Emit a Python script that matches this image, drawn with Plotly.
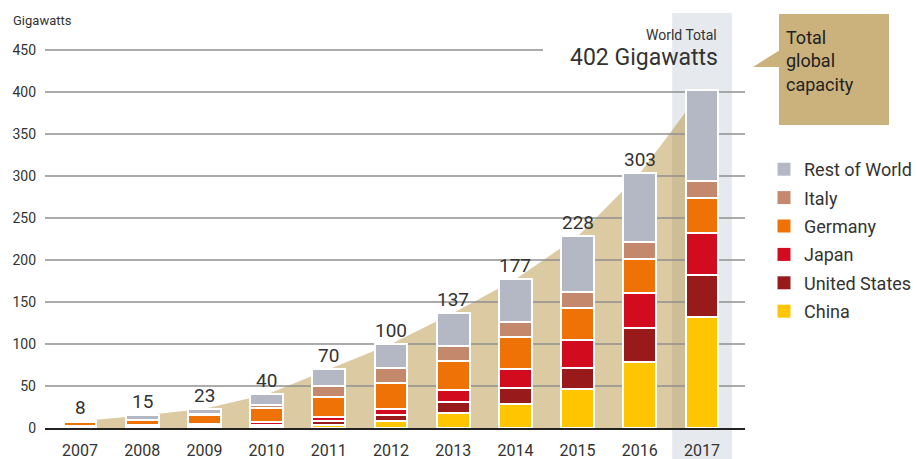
import plotly.graph_objects as go

# ---- data ----
years = [2007, 2008, 2009, 2010, 2011, 2012, 2013, 2014, 2015, 2016, 2017]
china = [0.1, 0.14, 0.3, 0.9, 3.5, 8.5, 18.2, 28.6, 46, 78, 132]
united_states = [0.8, 1.2, 1.6, 2.5, 4.5, 7, 13, 19.4, 25.4, 41, 50]
japan = [1.9, 2.1, 2.6, 3.6, 5, 7.5, 14, 22, 33, 42, 50]
germany = [3.8, 6, 10.6, 17.4, 24.5, 31, 34, 38, 39, 40.5, 42]
italy = [0.1, 0.5, 1.1, 3.5, 12.5, 17, 18, 18.6, 19, 19.4, 19.7]
rest_of_world = [1.3, 5.1, 6.8, 12.1, 20, 29, 39.8, 50.4, 65.6, 82.1, 108.3]
totals = [8, 15, 23, 40, 70, 100, 137, 177, 228, 303, 402]
y_ticks = [0, 50, 100, 150, 200, 250, 300, 350, 400, 450]

series = [
    ("China", china, "#FFC600"),
    ("United States", united_states, "#981A1B"),
    ("Japan", japan, "#D20C1E"),
    ("Germany", germany, "#EE7205"),
    ("Italy", italy, "#C4886C"),
    ("Rest of World", rest_of_world, "#B4B8C5"),
]

# ---- layout geometry ----
W, H = 917, 459
L, R, T, B = 45, 172, 40, 31
plot_w = W - L - R
plot_h = H - T - B
px_per_year = 62.2
x_start = years[0] - (80 - L) / px_per_year
x_end = x_start + plot_w / px_per_year
y_max = plot_h / 0.84


def pxx(xp):
    return (xp - L) / plot_w


def pxy(yp):
    return (H - B - yp) / plot_h


def xdata(xp):
    return x_start + (xp - L) / px_per_year


FONT = "Roboto, 'Open Sans', sans-serif"
TXT = "#333333"

fig = go.Figure()

for name, vals, col in series:
    fig.add_trace(go.Bar(
        x=years, y=vals, name=name, width=0.53,
        marker=dict(color=col, line=dict(color="white", width=2)),
        showlegend=False, hoverinfo="x+y+name",
    ))

# legend entries (square swatches)
for name, vals, col in reversed(series):
    fig.add_trace(go.Scatter(
        x=[None], y=[None], mode="markers", name=name, legendgroup=name,
        marker=dict(symbol="square", size=13, color=col),
    ))

shapes = []
# highlight band for the last year
shapes.append(dict(
    type="rect", xref="x", yref="paper",
    x0=years[-1] - 0.48, x1=years[-1] + 0.48,
    y0=pxy(459), y1=pxy(13),
    fillcolor="#E6E9EE", line=dict(width=0), layer="below",
))
# tan total-capacity area built from totals
path = f"M {years[0]},0 " + " ".join(f"L {x},{t}" for x, t in zip(years, totals)) + f" L {years[-1]},0 Z"
shapes.append(dict(
    type="path", xref="x", yref="y", path=path,
    fillcolor="rgba(168,125,23,0.4)", line=dict(width=0), layer="below",
))
# grid lines
for v in y_ticks[1:]:
    xe = x_end if v != y_ticks[-1] else xdata(543)
    shapes.append(dict(
        type="line", xref="x", yref="y", x0=x_start, x1=xe, y0=v, y1=v,
        line=dict(color="#8f8f8f", width=1.3), layer="below",
    ))
# callout box and pointer
shapes.append(dict(
    type="rect", xref="paper", yref="paper",
    x0=pxx(779), x1=pxx(889), y0=pxy(125), y1=pxy(14),
    fillcolor="#CBB17B", line=dict(width=0), layer="above",
))
shapes.append(dict(
    type="path", xref="paper", yref="paper",
    path=f"M {pxx(780)},{pxy(50)} L {pxx(753)},{pxy(67)} L {pxx(780)},{pxy(67)} Z",
    fillcolor="#CBB17B", line=dict(width=0), layer="above",
))

annotations = []
for x, t in zip(years[:-1], totals[:-1]):
    annotations.append(dict(
        x=x, y=t, xref="x", yref="y", text=str(t), showarrow=False,
        yanchor="bottom", font=dict(size=19, color=TXT, family=FONT),
    ))
annotations += [
    dict(x=pxx(11), y=pxy(21), xref="paper", yref="paper", text="Gigawatts",
         showarrow=False, xanchor="left", yanchor="middle",
         font=dict(size=13, color=TXT, family=FONT)),
    dict(x=pxx(719), y=pxy(35), xref="paper", yref="paper", text="World Total",
         showarrow=False, xanchor="right", yanchor="middle",
         font=dict(size=14, color=TXT, family=FONT)),
    dict(x=pxx(720), y=pxy(58), xref="paper", yref="paper", text="402 Gigawatts",
         showarrow=False, xanchor="right", yanchor="middle",
         font=dict(size=23, color=TXT, family=FONT)),
    dict(x=pxx(784), y=pxy(25), xref="paper", yref="paper",
         text="Total<br>global<br>capacity", align="left",
         showarrow=False, xanchor="left", yanchor="top",
         font=dict(size=18, color="#222222", family=FONT)),
]

fig.update_layout(
    width=W, height=H,
    margin=dict(l=L, r=R, t=T, b=B, autoexpand=False),
    barmode="stack",
    paper_bgcolor="white", plot_bgcolor="rgba(0,0,0,0)",
    font=dict(family=FONT, color=TXT),
    shapes=shapes, annotations=annotations,
    legend=dict(
        x=pxx(764), y=pxy(151), xanchor="left", yanchor="top",
        font=dict(size=18, color=TXT, family=FONT),
        bgcolor="rgba(0,0,0,0)", tracegroupgap=2, itemsizing="trace",
        traceorder="grouped",
    ),
    xaxis=dict(
        range=[x_start, x_end], tickvals=years, ticktext=[str(y) for y in years],
        showgrid=False, zeroline=False, showline=True, linecolor="#222222", linewidth=2,
        ticks="", ticklabelstandoff=7, tickfont=dict(size=16, color=TXT, family=FONT),
        fixedrange=True,
    ),
    yaxis=dict(
        range=[0, y_max], tickvals=y_ticks, showgrid=False, zeroline=False,
        ticks="", ticklabelstandoff=8, tickfont=dict(size=14, color=TXT, family=FONT),
        fixedrange=True,
    ),
)

fig.write_html("out.html")
